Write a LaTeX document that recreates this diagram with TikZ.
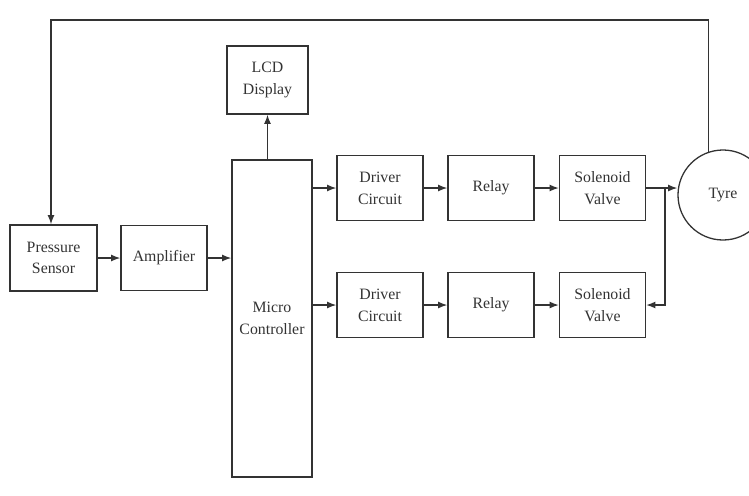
\documentclass[tikz,border=0pt]{standalone}
\usepackage{fontspec}
\setmainfont{Liberation Serif}
\usepackage{tikz}
\usetikzlibrary{arrows.meta,positioning,calc}
\definecolor{ink}{HTML}{333333}

\begin{document}
\begin{tikzpicture}[x=0.03cm,y=-0.03cm,font=\fontsize{13.5}{18.5}\selectfont,
  line width=1.1pt,
  blk/.style={draw=ink,text=ink,align=center,inner sep=1pt,minimum width=2.58cm,minimum height=1.95cm},
  arr/.style={draw=ink,-{Latex[length=2.8mm,width=2.1mm]}}]
\useasboundingbox (0,0) rectangle (749,495);
\node[blk,minimum width=2.61cm,minimum height=1.98cm] (sensor) at (53.5,258) {Pressure\\Sensor};
\node[blk] (amp) at (164,258) {Amplifier};
\node[blk,minimum width=2.4cm,minimum height=9.51cm] (mcu) at (272,318.5) {Micro\\Controller};
\node[blk,minimum width=2.43cm,minimum height=2.04cm] (lcd) at (267.5,80) {LCD\\Display};
\node[blk] (drv1) at (380,188) {Driver\\Circuit};
\node[blk] (rly1) at (491,188) {Relay};
\node[blk] (sol1) at (602.5,188) {Solenoid\\Valve};
\node[blk] (drv2) at (380,305) {Driver\\Circuit};
\node[blk] (rly2) at (491,305) {Relay};
\node[blk] (sol2) at (602.5,305) {Solenoid\\Valve};
\node[draw=ink,text=ink,circle,minimum size=2.7cm,inner sep=0pt] (tyre) at (723,195) {Tyre};
\coordinate (fb) at (51,20);
\coordinate (jn) at (665,188);
\draw[arr] (sensor) -- (amp);
\draw[arr] (amp) -- (amp -| mcu.west);
\draw[arr] (lcd.south |- mcu.north) -- (lcd.south);
\draw[arr] (mcu.east |- drv1) -- (drv1);
\draw[arr] (mcu.east |- drv2) -- (drv2);
\draw[arr] (drv1) -- (rly1);
\draw[arr] (rly1) -- (sol1);
\draw[arr] (drv2) -- (rly2);
\draw[arr] (rly2) -- (sol2);
\draw[arr] (sol1.east) -- (sol1.east -| tyre.west);
\draw[arr] (jn) |- (sol2.east);
\draw[arr] (tyre.109.5) |- (fb) -- (fb |- sensor.north);
\end{tikzpicture}
\end{document}
